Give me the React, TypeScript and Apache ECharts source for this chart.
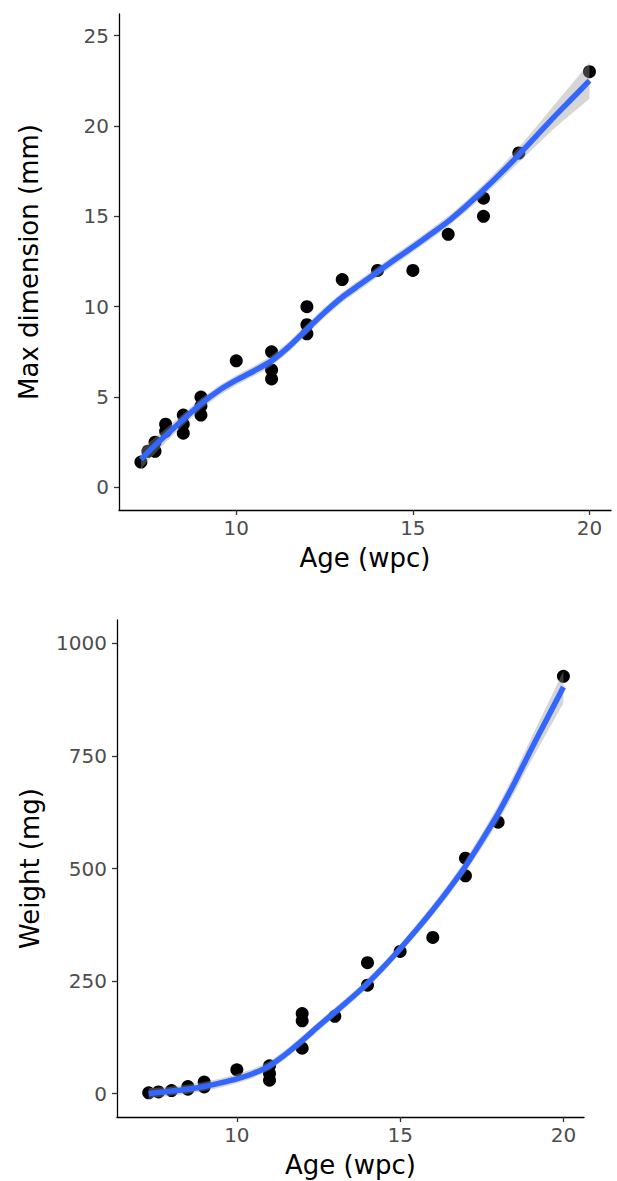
import React, { useEffect, useRef } from "react";
import * as echarts from "echarts";

// ---- Top panel: Max dimension (mm) vs Age (wpc) ----
const topAge = [7.3, 7.5, 7.7, 7.7, 8, 8, 8.5, 8.5, 8.5, 9, 9, 9, 10, 11, 11, 11, 12, 12, 12, 13, 14, 15, 16, 17, 17, 18, 20];
const topDim = [1.4, 2, 2.5, 2, 3.5, 3.1, 4, 3.5, 3, 5, 4.5, 4, 7, 7.5, 6.5, 6, 10, 9, 8.5, 11.5, 12, 12, 14, 16, 15, 18.5, 23];

const curveX = [7.3, 7.5, 8, 8.5, 9, 9.5, 10, 10.5, 11, 11.5, 12, 12.5, 13, 13.5, 14, 14.5, 15, 15.5, 16, 16.5, 17, 17.5, 18, 18.5, 19, 19.5, 20];
const topFit = [1.55, 1.95, 2.87, 3.76, 4.62, 5.35, 5.93, 6.44, 7.0, 7.8, 8.75, 9.68, 10.52, 11.22, 11.92, 12.62, 13.3, 14.0, 14.72, 15.55, 16.45, 17.4, 18.4, 19.45, 20.5, 21.5, 22.5];
const topLower = [1.0, 1.47, 2.49, 3.44, 4.32, 5.07, 5.65, 6.16, 6.72, 7.52, 8.47, 9.4, 10.24, 10.94, 11.64, 12.34, 13.02, 13.72, 14.44, 15.25, 16.13, 17.04, 17.98, 18.93, 19.85, 20.68, 21.5];
const topUpper = [2.1, 2.43, 3.25, 4.08, 4.92, 5.63, 6.21, 6.72, 7.28, 8.08, 9.03, 9.96, 10.8, 11.5, 12.2, 12.9, 13.58, 14.28, 15.0, 15.85, 16.77, 17.76, 18.82, 19.97, 21.15, 22.32, 23.5];
const topYTicks = [0, 5, 10, 15, 20, 25];
const topXTicks = [10, 15, 20];

// ---- Bottom panel: Weight (mg) vs Age (wpc) ----
const botAge = [7.3, 7.6, 8, 8.5, 8.5, 9, 9, 10, 11, 11, 11, 12, 12, 12, 13, 14, 14, 15, 16, 17, 17, 18, 20];
const botWeight = [2, 4, 7, 10, 16, 15, 26, 53, 62, 45, 30, 178, 162, 101, 172, 291, 241, 316, 347, 523, 484, 603, 927];

const botFit = [0, 2, 6, 10, 16, 24, 33, 45, 62, 88, 118, 150, 181, 212, 245, 282, 322, 364, 408, 455, 505, 562, 622, 690, 763, 833, 903];
const botLower = [-12, -9, -4, 0, 6, 14, 23, 35, 52, 78, 108, 140, 171, 202, 235, 272, 312, 353, 396, 442, 491, 546, 604, 669, 738, 803, 867];
const botUpper = [12, 13, 16, 20, 26, 34, 43, 55, 72, 98, 128, 160, 191, 222, 255, 292, 332, 375, 420, 468, 519, 578, 640, 711, 788, 863, 939];
const botYTicks = [0, 250, 500, 750, 1000];
const botXTicks = [10, 15, 20];

const FONT = "DejaVu Sans";

function ribbon(xs: number[], lo: number[], hi: number[], idx: number) {
  return {
    type: "custom",
    xAxisIndex: idx,
    yAxisIndex: idx,
    z: 3,
    silent: true,
    clip: true,
    data: [[xs[0], lo[0]]],
    renderItem: (params: any, api: any) => {
      const pts: number[][] = [];
      for (let i = 0; i < xs.length; i++) pts.push(api.coord([xs[i], hi[i]]));
      for (let i = xs.length - 1; i >= 0; i--) pts.push(api.coord([xs[i], lo[i]]));
      return {
        type: "polygon",
        shape: { points: pts },
        style: { fill: "rgba(153,153,153,0.4)", stroke: "none" },
      };
    },
  };
}

function xAxis(idx: number, min: number, max: number, ticks: number[]) {
  return {
    type: "value",
    gridIndex: idx,
    min,
    max,
    name: "Age (wpc)",
    nameLocation: "middle",
    nameGap: 35,
    nameTextStyle: { color: "#000", fontSize: 26, fontFamily: FONT },
    axisLine: { show: true, onZero: false, lineStyle: { color: "#000", width: 1.3 } },
    axisTick: { show: true, length: 5, customValues: ticks, lineStyle: { color: "#333", width: 1.3 } },
    axisLabel: {
      show: true,
      customValues: ticks,
      margin: 8,
      color: "#4d4d4d",
      fontSize: 20,
      fontFamily: FONT,
      formatter: (v: number) => String(v),
    },
    splitLine: { show: false },
  };
}

function yAxis(idx: number, min: number, max: number, ticks: number[], name: string, gap: number) {
  return {
    type: "value",
    gridIndex: idx,
    min,
    max,
    name,
    nameLocation: "middle",
    nameGap: gap,
    nameTextStyle: { color: "#000", fontSize: 26, fontFamily: FONT },
    axisLine: { show: true, onZero: false, lineStyle: { color: "#000", width: 1.3 } },
    axisTick: { show: true, length: 5, customValues: ticks, lineStyle: { color: "#333", width: 1.3 } },
    axisLabel: {
      show: true,
      customValues: ticks,
      margin: 10,
      color: "#4d4d4d",
      fontSize: 20,
      fontFamily: FONT,
      formatter: (v: number) => String(v),
    },
    splitLine: { show: false },
  };
}

export default function App() {
  const ref = useRef<HTMLDivElement>(null);
  useEffect(() => {
    if (!ref.current) return;
    const chart = echarts.init(ref.current, undefined, { renderer: "svg" });
    chart.setOption({
      animation: false,
      backgroundColor: "#fff",
      grid: [
        { left: 119, top: 14, width: 492, height: 496 },
        { left: 117, top: 620, width: 467, height: 497 },
      ],
      xAxis: [xAxis(0, 6.68, 20.61, topXTicks), xAxis(1, 6.33, 20.63, botXTicks)],
      yAxis: [
        yAxis(0, -1.25, 26.19, topYTicks, "Max dimension (mm)", 77),
        yAxis(1, -51.7, 1052, botYTicks, "Weight (mg)", 74),
      ],
      series: [
        {
          type: "scatter",
          xAxisIndex: 0,
          yAxisIndex: 0,
          z: 2,
          symbolSize: 13,
          itemStyle: { color: "#000", opacity: 1 },
          data: topAge.map((x, i) => [x, topDim[i]]),
        },
        ribbon(curveX, topLower, topUpper, 0),
        {
          type: "line",
          xAxisIndex: 0,
          yAxisIndex: 0,
          z: 4,
          smooth: 0.25,
          symbol: "none",
          lineStyle: { color: "#3366FF", width: 5.5 },
          data: curveX.map((x, i) => [x, topFit[i]]),
        },
        {
          type: "scatter",
          xAxisIndex: 1,
          yAxisIndex: 1,
          z: 2,
          symbolSize: 13,
          itemStyle: { color: "#000", opacity: 1 },
          data: botAge.map((x, i) => [x, botWeight[i]]),
        },
        ribbon(curveX, botLower, botUpper, 1),
        {
          type: "line",
          xAxisIndex: 1,
          yAxisIndex: 1,
          z: 4,
          smooth: 0.25,
          symbol: "none",
          lineStyle: { color: "#3366FF", width: 5.5 },
          data: curveX.map((x, i) => [x, botFit[i]]),
        },
      ],
    });
    return () => chart.dispose();
  }, []);
  return (
    <div
      ref={ref}
      style={{ position: "absolute", left: 0, top: 0, width: 617, height: 1181, background: "#fff" }}
    />
  );
}
